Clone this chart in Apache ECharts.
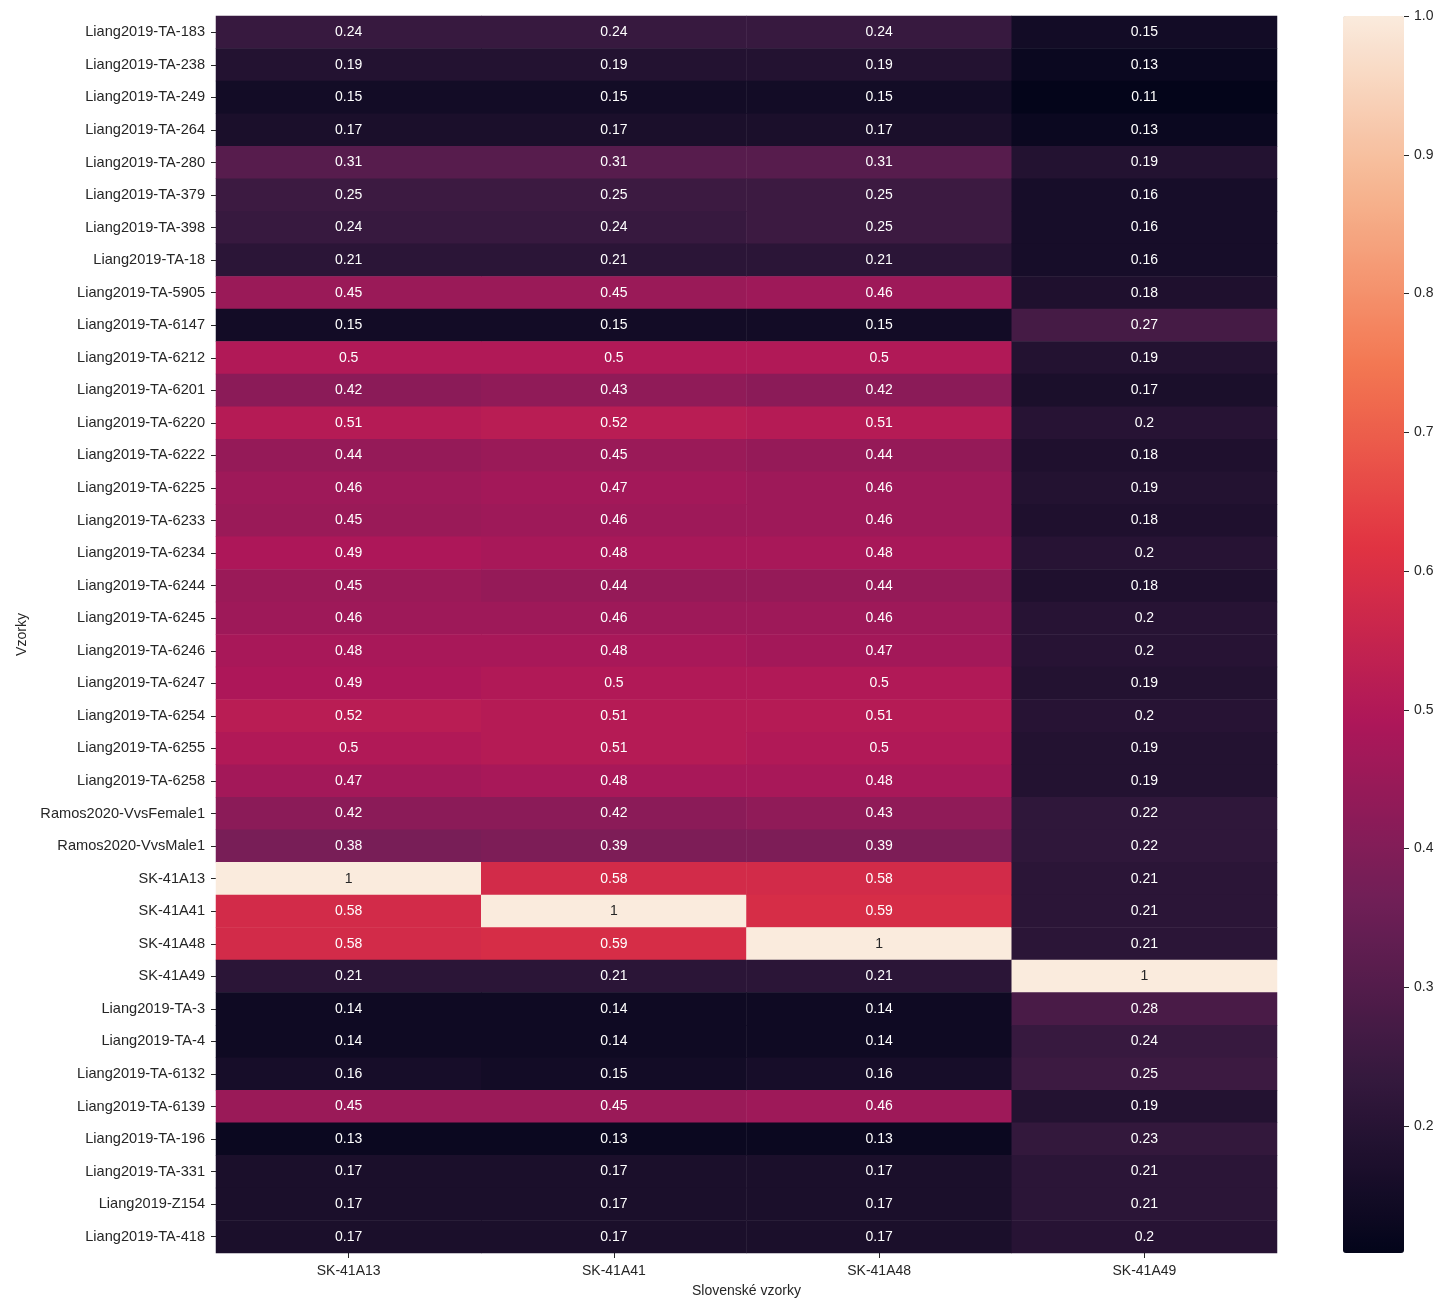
<!DOCTYPE html>
<html>
<head>
<meta charset="utf-8">
<script src="https://cdn.jsdelivr.net/npm/echarts@6/dist/echarts.min.js"></script>
<style>
  html, body { margin: 0; padding: 0; background: #ffffff; }
  #chart { width: 1441px; height: 1299px; }
</style>
</head>
<body>
<div id="chart"></div>
<script>
// Sample names (rows) and Slovak samples (columns)
const rowNames = [
  'Liang2019-TA-183', 'Liang2019-TA-238', 'Liang2019-TA-249', 'Liang2019-TA-264',
  'Liang2019-TA-280', 'Liang2019-TA-379', 'Liang2019-TA-398', 'Liang2019-TA-18',
  'Liang2019-TA-5905', 'Liang2019-TA-6147', 'Liang2019-TA-6212', 'Liang2019-TA-6201',
  'Liang2019-TA-6220', 'Liang2019-TA-6222', 'Liang2019-TA-6225', 'Liang2019-TA-6233',
  'Liang2019-TA-6234', 'Liang2019-TA-6244', 'Liang2019-TA-6245', 'Liang2019-TA-6246',
  'Liang2019-TA-6247', 'Liang2019-TA-6254', 'Liang2019-TA-6255', 'Liang2019-TA-6258',
  'Ramos2020-VvsFemale1', 'Ramos2020-VvsMale1', 'SK-41A13', 'SK-41A41',
  'SK-41A48', 'SK-41A49', 'Liang2019-TA-3', 'Liang2019-TA-4',
  'Liang2019-TA-6132', 'Liang2019-TA-6139', 'Liang2019-TA-196', 'Liang2019-TA-331',
  'Liang2019-Z154', 'Liang2019-TA-418'
];
const colNames = ['SK-41A13', 'SK-41A41', 'SK-41A48', 'SK-41A49'];

// Similarity values, one array per column (same order as rowNames)
const valsSK41A13 = [0.24, 0.19, 0.15, 0.17, 0.31, 0.25, 0.24, 0.21, 0.45, 0.15, 0.5, 0.42, 0.51, 0.44, 0.46, 0.45, 0.49, 0.45, 0.46, 0.48, 0.49, 0.52, 0.5, 0.47, 0.42, 0.38, 1, 0.58, 0.58, 0.21, 0.14, 0.14, 0.16, 0.45, 0.13, 0.17, 0.17, 0.17];
const valsSK41A41 = [0.24, 0.19, 0.15, 0.17, 0.31, 0.25, 0.24, 0.21, 0.45, 0.15, 0.5, 0.43, 0.52, 0.45, 0.47, 0.46, 0.48, 0.44, 0.46, 0.48, 0.5, 0.51, 0.51, 0.48, 0.42, 0.39, 0.58, 1, 0.59, 0.21, 0.14, 0.14, 0.15, 0.45, 0.13, 0.17, 0.17, 0.17];
const valsSK41A48 = [0.24, 0.19, 0.15, 0.17, 0.31, 0.25, 0.25, 0.21, 0.46, 0.15, 0.5, 0.42, 0.51, 0.44, 0.46, 0.46, 0.48, 0.44, 0.46, 0.47, 0.5, 0.51, 0.5, 0.48, 0.43, 0.39, 0.58, 0.59, 1, 0.21, 0.14, 0.14, 0.16, 0.46, 0.13, 0.17, 0.17, 0.17];
const valsSK41A49 = [0.15, 0.13, 0.11, 0.13, 0.19, 0.16, 0.16, 0.16, 0.18, 0.27, 0.19, 0.17, 0.2, 0.18, 0.19, 0.18, 0.2, 0.18, 0.2, 0.2, 0.19, 0.2, 0.19, 0.19, 0.22, 0.22, 0.21, 0.21, 0.21, 1, 0.28, 0.24, 0.25, 0.19, 0.23, 0.21, 0.21, 0.2];

// Colour bar range and tick labels
const colorMin = 0.1085;
const colorMax = 1.0;
const colorbarTicks = [0.2, 0.3, 0.4, 0.5, 0.6, 0.7, 0.8, 0.9, 1.0];

// "rocket" sequential palette, evenly spaced stops
const rocket = ['#03051a', '#35193e', '#701f57', '#ad1759', '#e13342', '#f37651', '#f6b48f', '#faebdd'];

const FONT = '"Liberation Sans", Arial, sans-serif';
const TEXT = '#262626';

const columns = [valsSK41A13, valsSK41A41, valsSK41A48, valsSK41A49];
const cells = [];
columns.forEach((col, ci) => {
  col.forEach((v, ri) => {
    cells.push({
      value: [ci, ri, v],
      label: { color: v > 0.75 ? TEXT : '#ffffff' }
    });
  });
});

const chart = echarts.init(document.getElementById('chart'), null, { renderer: 'canvas' });

chart.setOption({
  animation: false,
  backgroundColor: '#ffffff',
  textStyle: { fontFamily: FONT },
  grid: [
    { left: 216, right: 164, top: 16, bottom: 46, containLabel: false, outerBoundsMode: 'none' },
    { left: 1343, top: 16, width: 61, height: 1237, containLabel: false, outerBoundsMode: 'none' }
  ],
  xAxis: [
    {
      type: 'category', gridIndex: 0, data: colNames,
      name: 'Slovenské vzorky', nameLocation: 'middle', nameGap: 31,
      nameTextStyle: { color: TEXT, fontSize: 14, fontFamily: FONT },
      axisLine: { show: false },
      axisTick: { show: true, alignWithLabel: true, length: 5, lineStyle: { color: TEXT } },
      axisLabel: { color: TEXT, fontSize: 14, margin: 11, fontFamily: FONT },
      splitLine: { show: false }
    },
    { type: 'value', gridIndex: 1, show: false, min: 0, max: 1 }
  ],
  yAxis: [
    {
      type: 'category', gridIndex: 0, data: rowNames, inverse: true,
      name: 'Vzorky', nameLocation: 'middle', nameGap: 186, nameRotate: 90,
      nameTextStyle: { color: TEXT, fontSize: 14, fontFamily: FONT },
      axisLine: { show: false },
      axisTick: { show: true, alignWithLabel: true, length: 5, lineStyle: { color: TEXT } },
      axisLabel: { color: TEXT, fontSize: 14.6, margin: 11, fontFamily: FONT, padding: [3, 0, 0, 0] },
      splitLine: { show: false }
    },
    {
      type: 'value', gridIndex: 1, position: 'right',
      min: colorMin, max: colorMax,
      axisLine: { show: false, onZero: false },
      splitLine: { show: false },
      axisTick: { show: true, inside: false, length: 5, lineStyle: { color: TEXT, width: 1 }, customValues: colorbarTicks },
      axisLabel: {
        show: true, color: TEXT, fontSize: 14, margin: 10, fontFamily: FONT,
        customValues: colorbarTicks,
        formatter: v => Number(v).toFixed(1)
      }
    }
  ],
  visualMap: {
    type: 'continuous',
    seriesIndex: 0,
    dimension: 2,
    min: colorMin,
    max: colorMax,
    calculable: false,
    hoverLink: false,
    realtime: false,
    orient: 'vertical',
    left: 1343,
    top: 16,
    padding: 0,
    itemWidth: 61,
    itemHeight: 1237,
    text: null,
    showLabel: false,
    inRange: { color: rocket }
  },
  series: [{
    type: 'heatmap',
    xAxisIndex: 0,
    yAxisIndex: 0,
    data: cells,
    label: {
      show: true,
      fontSize: 14,
      fontFamily: FONT,
      formatter: p => String(p.value[2])
    },
    itemStyle: { borderWidth: 0 },
    emphasis: { disabled: true }
  }]
});
</script>
</body>
</html>
